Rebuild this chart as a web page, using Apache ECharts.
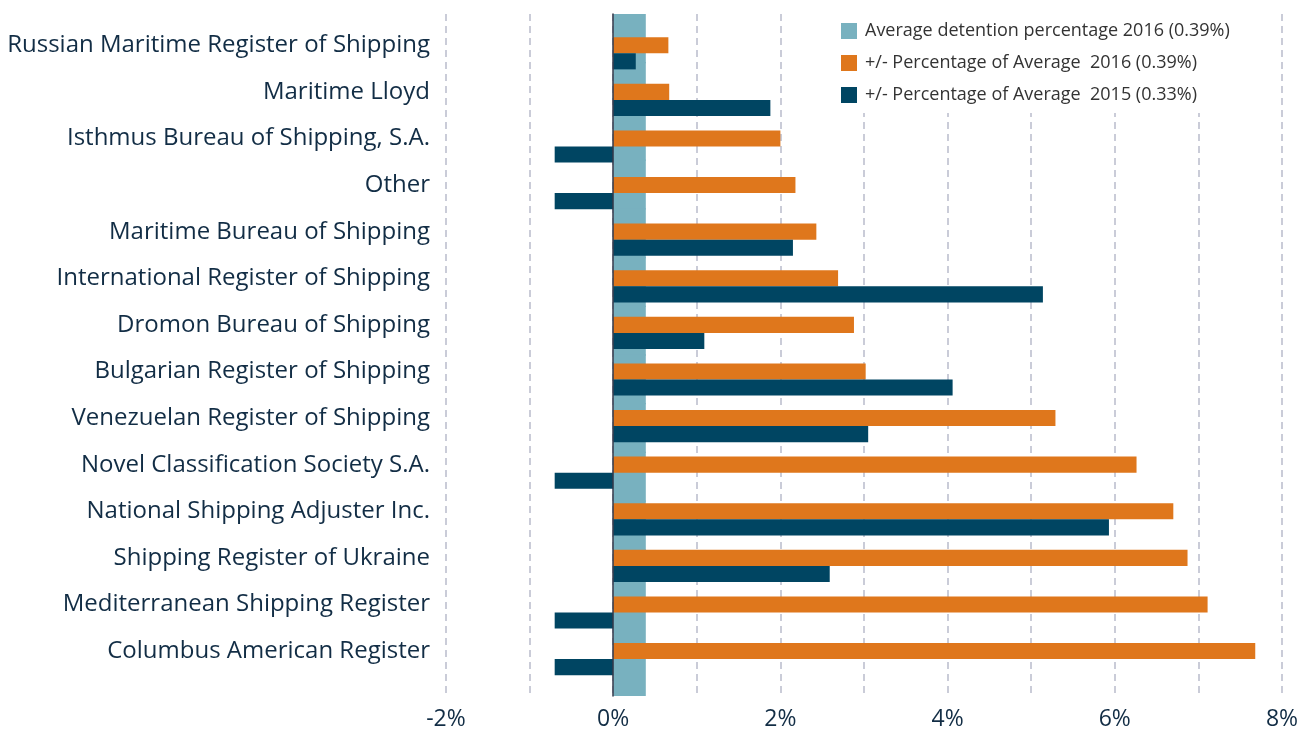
<!DOCTYPE html>
<html>
<head>
<meta charset="utf-8">
<script src="https://cdn.jsdelivr.net/npm/echarts@6/dist/echarts.min.js"></script>
<style>
  html, body { margin: 0; padding: 0; background: #fff; }
  #chart { width: 1311px; height: 731px; }
</style>
</head>
<body>
<div id="chart"></div>
<script>
// categories, top to bottom
const categories = [
  'Russian Maritime Register of Shipping',
  'Maritime Lloyd',
  'Isthmus Bureau of Shipping, S.A.',
  'Other',
  'Maritime Bureau of Shipping',
  'International Register of Shipping',
  'Dromon Bureau of Shipping',
  'Bulgarian Register of Shipping',
  'Venezuelan Register of Shipping',
  'Novel Classification Society S.A.',
  'National Shipping Adjuster Inc.',
  'Shipping Register of Ukraine',
  'Mediterranean Shipping Register',
  'Columbus American Register'
];
const seriesNames = [
  'Average detention percentage 2016 (0.39%)',
  '+/- Percentage of Average  2016 (0.39%)',
  '+/- Percentage of Average  2015 (0.33%)'
];
const average2016 = [0.39, 0.39, 0.39, 0.39, 0.39, 0.39, 0.39, 0.39, 0.39, 0.39, 0.39, 0.39, 0.39, 0.39];
const diff2016 = [0.66, 0.67, 2.0, 2.18, 2.43, 2.69, 2.88, 3.02, 5.29, 6.26, 6.70, 6.87, 7.11, 7.68];
const diff2015 = [0.27, 1.88, -0.7, -0.7, 2.15, 5.14, 1.09, 4.06, 3.05, -0.7, 5.93, 2.59, -0.7, -0.7];
const xTicks = [-2, 0, 2, 4, 6, 8];

const FONT = 'Open Sans';
const TEXT = '#122d45';

const chart = echarts.init(document.getElementById('chart'));

const options = {
  animation: false,
  textStyle: { fontFamily: FONT },
  color: ['#78b1bf', '#df771c', '#004562'],
  legend: {
    orient: 'vertical',
    left: 831,
    top: 13,
    padding: [9, 10, 9, 10],
    backgroundColor: '#fff',
    itemWidth: 16,
    itemHeight: 16,
    itemGap: 14,
    icon: 'rect',
    data: seriesNames,
    textStyle: { fontFamily: FONT, fontSize: 18, color: '#333', padding: [0, 0, 0, 3] }
  },
  grid: [
    // background grid: teal column, dashed lines, x labels
    { left: 446, right: 29, top: 14, bottom: 34 },
    // bar grid
    { left: 446, right: 29, top: 30, bottom: 48.6 }
  ],
  xAxis: [
    {
      gridIndex: 0,
      type: 'value',
      min: -2,
      max: 8,
      interval: 1,
      axisLine: { show: false },
      axisTick: { show: false },
      splitLine: { show: true, lineStyle: { color: '#b9bccb', width: 1.5, type: [7, 5] } },
      axisLabel: {
        margin: 12,
        fontSize: 23,
        color: TEXT,
        fontFamily: FONT,
        formatter: v => (xTicks.indexOf(v) >= 0 ? v + '%' : '')
      }
    },
    {
      gridIndex: 1,
      type: 'value',
      min: -2,
      max: 8,
      show: false
    }
  ],
  yAxis: [
    {
      gridIndex: 0,
      type: 'category',
      inverse: true,
      data: categories,
      z: 10,
      axisLine: { show: true, onZero: true, lineStyle: { color: '#33384a', width: 1.5 } },
      axisTick: { show: false },
      axisLabel: { show: false },
      splitLine: { show: false }
    },
    {
      gridIndex: 1,
      type: 'category',
      inverse: true,
      data: categories,
      axisLine: { show: false, onZero: false },
      axisTick: { show: false },
      axisLabel: {
        margin: 16,
        fontSize: 24,
        color: TEXT,
        fontFamily: FONT,
        verticalAlign: 'bottom',
        lineHeight: 16
      }
    }
  ],
  series: [
    {
      name: seriesNames[0],
      type: 'bar',
      xAxisIndex: 0,
      yAxisIndex: 0,
      barWidth: 50,
      data: average2016
    },
    {
      name: seriesNames[1],
      type: 'bar',
      xAxisIndex: 1,
      yAxisIndex: 1,
      barGap: '0%',
      barCategoryGap: '31%',
      data: diff2016
    },
    {
      name: seriesNames[2],
      type: 'bar',
      xAxisIndex: 1,
      yAxisIndex: 1,
      barGap: '0%',
      barCategoryGap: '31%',
      data: diff2015
    }
  ]
};

chart.setOption(options);
</script>
</body>
</html>
